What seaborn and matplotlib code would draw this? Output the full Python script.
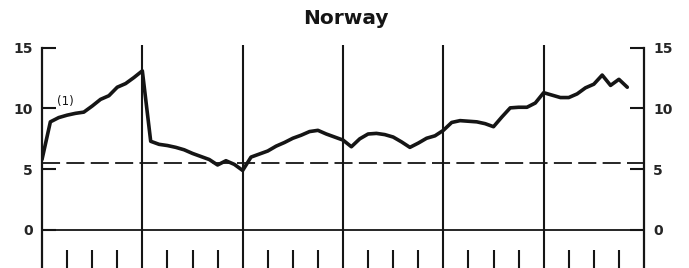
import matplotlib
matplotlib.use('Agg')
import matplotlib.pyplot as plt
import numpy as np
import pandas as pd
import seaborn as sns

# monthly values, one list per year (last year ends in November)
year1 = [5.8, 8.9, 9.25, 9.45, 9.6, 9.7, 10.2, 10.75, 11.05, 11.75, 12.05, 12.55, 13.1]
year2 = [7.3, 7.05, 6.95, 6.8, 6.6, 6.3, 6.05, 5.8, 5.35, 5.7, 5.4, 4.9]
year3 = [6.0, 6.25, 6.5, 6.9, 7.2, 7.55, 7.8, 8.1, 8.2, 7.9, 7.65, 7.4]
year4 = [6.85, 7.5, 7.9, 7.95, 7.85, 7.65, 7.25, 6.8, 7.15, 7.55, 7.75, 8.2]
year5 = [8.85, 9.0, 8.95, 8.9, 8.75, 8.5, 9.3, 10.05, 10.1, 10.1, 10.45, 11.3]
year6 = [11.1, 10.9, 10.9, 11.2, 11.7, 12.0, 12.75, 11.9, 12.4, 11.75]
reference_level = 5.55
y_ticks = [0, 5, 10, 15]
n_years = 6

values = year1 + year2 + year3 + year4 + year5 + year6
df = pd.DataFrame({'month': np.arange(len(values)), 'value': values})

sns.set_style('white')
plt.rcParams['font.family'] = ['DejaVu Sans']

fig = plt.figure(figsize=(6.89, 2.68), dpi=100)
ax = fig.add_axes([42 / 689, 0.0, 602 / 689, 1 - 44.7 / 268])

ink = '#151515'
sns.lineplot(data=df, x='month', y='value', ax=ax, color=ink, lw=2.6)

ax.axhline(0, color=ink, lw=1.3)
ax.axhline(reference_level, color=ink, lw=1.3, ls=(0, (10, 3.5)))
for yr in range(1, n_years):
    ax.axvline(12 * yr, color=ink, lw=1.5)

ax.annotate('(1)', xy=(1.75, 10.6), ha='left', va='center', fontsize=8.5, color=ink)

ax.set_xlim(0, 12 * n_years)
ax.set_ylim(-3.13, 15.25)
ax.set_xlabel('')
ax.set_ylabel('')

# year boundaries as major ticks, quarters as minor ticks
ax.set_xticks([12 * yr for yr in range(n_years + 1)])
ax.set_xticks([q for q in range(3, 12 * n_years, 3) if q % 12], minor=True)
ax.set_xticklabels([])
ax.tick_params(axis='x', which='major', length=0)
ax.tick_params(axis='x', which='minor', bottom=True, direction='in', length=13, width=1.5, color=ink)

ax.set_yticks(y_ticks)
ax.tick_params(axis='y', which='major', left=True, right=True, labelleft=True, labelright=True,
               direction='in', length=10, width=1.5, color=ink, pad=6.5, labelsize=10)
for t in ax.yaxis.get_major_ticks():
    t.label1.set_fontweight('bold')
    t.label2.set_fontweight('bold')

for side in ['top', 'bottom']:
    ax.spines[side].set_visible(False)
for side in ['left', 'right']:
    ax.spines[side].set_bounds(-3.13, 15)
    ax.spines[side].set_linewidth(1.6)
    ax.spines[side].set_color(ink)

fig.text(346 / 689, 1 - 19 / 268, 'Norway', ha='center', va='center',
         fontsize=14.5, fontweight='bold', color=ink)

fig.savefig('out.png', dpi=100)
